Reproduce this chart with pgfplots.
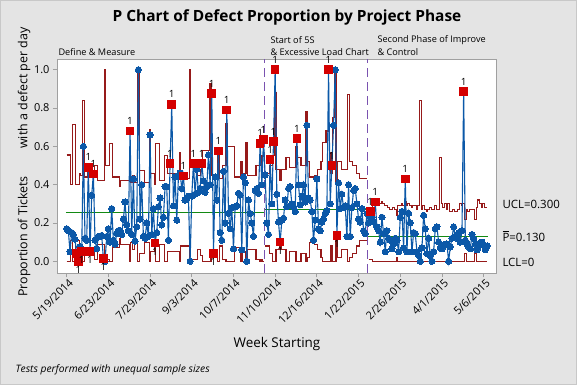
\documentclass[border=0pt]{standalone}
\usepackage{fontspec}
\setmainfont{Open Sans}
\usepackage{pgfplots}
\pgfplotsset{compat=1.18}
\usepackage{pgfplotstable}
\definecolor{bg}{HTML}{E4E4E4}
\definecolor{frame}{HTML}{C8C8C8}
\definecolor{axgray}{HTML}{A0A0A0}
\definecolor{mblue}{HTML}{0B58A8}
\definecolor{mred}{HTML}{D40000}
\definecolor{limred}{HTML}{961A1A}
\definecolor{cgreen}{HTML}{138A13}
\definecolor{mpurple}{HTML}{7A52B0}

\pgfplotstableread[row sep=\\]{
x y\\
1 0.17\\ 2 0.16\\ 3 0.05\\ 4 0.15\\ 5 0.14\\ 6 0.115\\ 7 0.04\\ 8 0.00\\ 9 0.075\\ 10 0.05\\
11 0.60\\ 12 0.12\\ 13 0.11\\ 14 0.49\\ 15 0.05\\ 16 0.345\\ 17 0.455\\ 18 0.11\\ 19 0.065\\ 20 0.13\\
21 0.13\\ 22 0.135\\ 23 0.015\\ 24 0.00\\ 25 0.13\\ 26 0.17\\ 27 0.10\\ 28 0.275\\ 29 0.11\\ 30 0.09\\
31 0.145\\ 32 0.16\\ 33 0.16\\ 34 0.14\\ 35 0.22\\ 36 0.31\\ 37 0.19\\ 38 0.16\\ 39 0.68\\ 40 0.14\\
41 0.43\\ 42 0.105\\ 43 0.18\\ 44 1.00\\ 45 0.22\\ 46 0.40\\ 47 0.13\\ 48 0.12\\ 49 0.20\\ 50 0.13\\
51 0.66\\ 52 0.14\\ 53 0.275\\ 54 0.095\\ 55 0.15\\ 56 0.285\\ 57 0.33\\ 58 0.19\\ 59 0.23\\ 60 0.39\\
61 0.39\\ 62 0.11\\ 63 0.51\\ 64 0.82\\ 65 0.29\\ 66 0.44\\ 67 0.215\\ 68 0.44\\ 69 0.46\\ 70 0.38\\
71 0.445\\ 72 0.32\\ 73 0.33\\ 74 0.34\\ 75 0.00\\ 76 0.34\\ 77 0.51\\ 78 0.35\\ 79 0.48\\ 80 0.36\\
81 0.38\\ 82 0.51\\ 83 0.42\\ 84 0.36\\ 85 0.39\\ 86 0.555\\ 87 0.40\\ 88 0.875\\ 89 0.04\\ 90 0.44\\
91 0.32\\ 92 0.575\\ 93 0.15\\ 94 0.11\\ 95 0.47\\ 96 0.20\\ 97 0.79\\ 98 0.25\\ 99 0.17\\ 100 0.28\\
101 0.065\\ 102 0.285\\ 103 0.29\\ 104 0.355\\ 105 0.345\\ 106 0.06\\ 107 0.44\\ 108 0.41\\ 109 0.00\\ 110 0.32\\
111 0.25\\ 112 0.20\\ 113 0.13\\ 114 0.37\\ 115 0.38\\ 116 0.355\\ 117 0.615\\ 118 0.40\\ 119 0.635\\
120 0.45\\ 121 0.20\\ 122 0.14\\ 123 0.53\\ 124 0.30\\ 125 0.625\\ 126 1.00\\ 127 0.35\\ 128 0.205\\ 129 0.10\\
130 0.215\\ 131 0.225\\ 132 0.32\\ 133 0.285\\ 134 0.38\\ 135 0.39\\ 136 0.30\\ 137 0.285\\ 138 0.26\\ 139 0.64\\
140 0.40\\ 141 0.295\\ 142 0.34\\ 143 0.40\\ 144 0.31\\ 145 0.71\\ 146 0.33\\ 147 0.32\\ 148 0.26\\ 149 0.11\\
150 0.215\\ 151 0.43\\ 152 0.17\\ 153 0.16\\ 154 0.205\\ 155 0.22\\ 156 0.25\\ 157 0.265\\ 158 1.00\\ 159 0.30\\
160 0.50\\ 161 0.71\\ 162 1.00\\ 163 0.135\\ 164 0.41\\ 165 0.275\\ 166 0.35\\ 167 0.28\\ 168 0.29\\ 169 0.13\\
170 0.40\\ 171 0.13\\ 172 0.28\\ 173 0.37\\ 174 0.38\\ 175 0.30\\ 176 0.22\\ 177 0.205\\ 178 0.275\\ 179 0.16\\
180 0.145\\ 181 0.25\\
182 0.20\\ 183 0.26\\ 184 0.23\\ 185 0.205\\ 186 0.31\\ 187 0.18\\ 188 0.16\\ 189 0.10\\ 190 0.23\\ 191 0.145\\
192 0.05\\ 193 0.16\\ 194 0.12\\ 195 0.11\\ 196 0.065\\ 197 0.09\\ 198 0.12\\ 199 0.11\\ 200 0.05\\ 201 0.23\\
202 0.26\\ 203 0.07\\ 204 0.43\\ 205 0.05\\ 206 0.25\\ 207 0.20\\ 208 0.05\\ 209 0.15\\ 210 0.145\\ 211 0.05\\
212 0.03\\ 213 0.00\\ 214 0.07\\ 215 0.24\\ 216 0.17\\ 217 0.04\\ 218 0.12\\ 219 0.03\\ 220 0.00\\ 221 0.05\\
222 0.17\\ 223 0.18\\ 224 0.10\\ 225 0.07\\ 226 0.065\\ 227 0.085\\ 228 0.085\\ 229 0.09\\ 230 0.00\\ 231 0.075\\
232 0.12\\ 233 0.18\\ 234 0.13\\ 235 0.12\\ 236 0.15\\ 237 0.10\\ 238 0.16\\ 239 0.885\\ 240 0.11\\ 241 0.09\\
242 0.075\\ 243 0.065\\ 244 0.14\\ 245 0.12\\ 246 0.09\\ 247 0.06\\ 248 0.09\\ 249 0.085\\ 250 0.10\\ 251 0.085\\
252 0.06\\ 253 0.08\\
}\ptsdata

\pgfplotstableread[row sep=\\]{
x y\\
14 0.49\\ 17 0.455\\ 39 0.68\\ 63 0.51\\ 64 0.82\\ 71 0.445\\ 77 0.51\\ 82 0.51\\ 88 0.875\\ 92 0.575\\
97 0.79\\ 117 0.615\\ 119 0.635\\ 123 0.53\\ 125 0.625\\ 126 1.00\\ 139 0.64\\ 158 1.00\\ 160 0.50\\
183 0.26\\ 186 0.31\\ 204 0.43\\ 239 0.885\\
}\redup

\pgfplotstableread[row sep=\\]{
x y\\
7 0.04\\ 8 0.00\\ 10 0.05\\ 15 0.05\\ 23 0.015\\ 54 0.095\\ 89 0.04\\ 129 0.10\\ 163 0.135\\
}\reddown

\pgfplotstableread[row sep=\\]{
x u l\\
1 0.555 0\\ 2 0.555 0\\ 3 0.555 0\\ 4 0.40 0.11\\ 5 0.715 0\\ 6 0.715 0\\ 7 0.40 0.11\\ 8 0.40 0.11\\ 9 0.46 0.05\\ 10 0.45 0.06\\
11 0.84 0\\ 12 0.44 0.07\\ 13 0.44 0.07\\ 14 0.47 0.04\\ 15 0.44 0.07\\ 16 0.44 0.07\\ 17 0.44 0.07\\ 18 0.50 0.01\\ 19 0.50 0.01\\ 20 0.42 0.09\\
21 0.42 0.09\\ 22 0.42 0.09\\ 23 0.42 0.09\\ 24 1.0 0\\ 25 0.50 0.01\\ 26 0.50 0.01\\ 27 0.615 0\\ 28 0.615 0\\ 29 0.44 0.07\\ 30 0.44 0.07\\
31 0.44 0.07\\ 32 0.44 0.07\\ 33 0.39 0.12\\ 34 0.42 0.09\\ 35 0.42 0.09\\ 36 0.42 0.09\\ 37 0.42 0.09\\ 38 0.42 0.09\\ 39 0.58 0\\ 40 0.41 0.10\\
41 0.45 0.06\\ 42 0.41 0.10\\ 43 0.41 0.10\\ 44 1.0 0\\ 45 0.475 0.04\\ 46 0.475 0.04\\ 47 0.475 0.04\\ 48 0.41 0.10\\ 49 0.41 0.10\\ 50 0.41 0.10\\
51 0.69 0\\ 52 0.46 0.05\\ 53 0.46 0.05\\ 54 0.40 0.11\\ 55 0.615 0\\ 56 0.615 0\\ 57 0.42 0.09\\ 58 0.42 0.09\\ 59 0.42 0.09\\ 60 0.55 0\\
61 0.55 0\\ 62 0.46 0.05\\ 63 0.46 0.05\\ 64 0.46 0.05\\ 65 0.46 0.05\\ 66 0.46 0.05\\ 67 0.46 0.05\\ 68 0.46 0.05\\ 69 0.57 0\\ 70 0.43 0.08\\
71 0.43 0.08\\ 72 0.43 0.08\\ 73 0.43 0.08\\ 74 0.43 0.08\\ 75 1.0 0\\ 76 0.50 0.01\\ 77 0.50 0.01\\ 78 0.50 0.01\\ 79 0.50 0.01\\ 80 0.45 0.06\\
81 0.45 0.06\\ 82 0.48 0.03\\ 83 0.58 0\\ 84 0.58 0\\ 85 0.58 0\\ 86 0.58 0\\ 87 0.93 0\\ 88 0.45 0.06\\ 89 0.45 0.06\\ 90 0.45 0.06\\
91 0.45 0.06\\ 92 0.55 0\\ 93 0.43 0.08\\ 94 0.43 0.08\\ 95 0.50 0.01\\ 96 0.50 0.01\\ 97 0.72 0\\ 98 0.60 0\\ 99 0.60 0\\ 100 0.60 0\\
101 0.60 0\\ 102 0.44 0.07\\ 103 0.44 0.07\\ 104 0.44 0.07\\ 105 0.44 0.07\\ 106 0.52 0\\ 107 0.46 0.05\\ 108 0.46 0.05\\ 109 0.62 0\\ 110 0.45 0.06\\
111 0.45 0.06\\ 112 0.45 0.06\\ 113 0.45 0.06\\ 114 0.45 0.06\\ 115 0.50 0.01\\ 116 0.50 0.01\\ 117 0.55 0\\ 118 0.50 0.01\\ 119 0.55 0\\
}\limA

\pgfplotstableread[row sep=\\]{
x u l\\
120 0.46 0.08\\ 121 0.46 0.08\\ 122 0.46 0.08\\ 123 0.50 0.04\\ 124 0.50 0.04\\ 125 0.55 0\\ 126 0.88 0\\ 127 0.48 0.06\\ 128 0.48 0.06\\ 129 0.42 0.12\\
130 0.48 0.06\\ 131 0.48 0.06\\ 132 0.48 0.06\\ 133 0.54 0\\ 134 0.54 0\\ 135 0.49 0.05\\ 136 0.49 0.05\\ 137 0.49 0.05\\ 138 0.49 0.05\\ 139 0.60 0\\
140 0.54 0\\ 141 0.54 0\\ 142 0.50 0.04\\ 143 0.50 0.04\\ 144 0.50 0.04\\ 145 0.78 0\\ 146 0.52 0.02\\ 147 0.44 0.10\\ 148 0.44 0.10\\ 149 0.44 0.10\\
150 0.45 0.09\\ 151 0.45 0.09\\ 152 0.48 0.06\\ 153 0.48 0.06\\ 154 0.52 0.02\\ 155 0.62 0\\ 156 0.62 0\\ 157 0.68 0\\ 158 0.68 0\\ 159 0.57 0\\
160 0.46 0.08\\ 161 0.75 0\\ 162 1.0 0\\ 163 0.40 0.14\\ 164 0.52 0.02\\ 165 0.52 0.02\\ 166 0.48 0.06\\ 167 0.48 0.06\\ 168 0.48 0.06\\ 169 0.48 0.06\\
170 0.87 0\\ 171 0.52 0.02\\ 172 0.52 0.02\\ 173 0.50 0.04\\ 174 0.50 0.04\\ 175 0.46 0.08\\ 176 0.46 0.08\\ 177 0.43 0.11\\ 178 0.43 0.11\\ 179 0.43 0.11\\
180 0.43 0.11\\ 181 0.43 0.11\\
}\limB

\pgfplotstableread[row sep=\\]{
x u l\\
182 0.25 0.01\\ 183 0.25 0.01\\ 184 0.25 0.01\\ 185 0.31 0\\ 186 0.29 0\\ 187 0.31 0\\ 188 0.31 0\\ 189 0.30 0\\ 190 0.31 0\\ 191 0.30 0\\
192 0.29 0\\ 193 0.29 0\\ 194 0.28 0\\ 195 0.27 0\\ 196 0.27 0\\ 197 0.28 0\\ 198 0.27 0\\ 199 0.24 0.02\\ 200 0.29 0\\ 201 0.29 0\\
202 0.30 0\\ 203 0.29 0\\ 204 0.31 0\\ 205 0.29 0\\ 206 0.30 0\\ 207 0.29 0\\ 208 0.28 0\\ 209 0.29 0\\ 210 0.29 0\\ 211 0.27 0\\
212 0.29 0\\ 213 0.84 0\\ 214 0.27 0\\ 215 0.29 0\\ 216 0.27 0\\ 217 0.26 0\\ 218 0.27 0\\ 219 0.28 0\\ 220 0.27 0\\ 221 0.27 0\\
222 0.29 0\\ 223 0.27 0\\ 224 0.27 0\\ 225 0.54 0\\ 226 0.30 0\\ 227 0.28 0\\ 228 0.30 0\\ 229 0.27 0\\ 230 0.30 0\\ 231 0.26 0\\
232 0.26 0\\ 233 0.27 0\\ 234 0.26 0\\ 235 0.26 0\\ 236 0.27 0\\ 237 0.30 0\\ 238 0.29 0\\ 239 0.30 0\\ 240 0.22 0.04\\ 241 0.27 0\\
242 0.26 0\\ 243 0.27 0\\ 244 0.27 0\\ 245 0.27 0\\ 246 0.22 0.04\\ 247 0.28 0\\ 248 0.32 0\\ 249 0.30 0\\ 250 0.28 0\\ 251 0.30 0\\
252 0.28 0\\ 253 0.28 0\\
}\limC

\newcommand{\fs}[1]{\fontsize{#1}{#1}\selectfont}

\begin{document}
\begin{tikzpicture}
\fill[bg] (0bp,0bp) rectangle (577bp,385bp);
\draw[frame, line width=0.8bp] (0.4bp,0.4bp) rectangle (576.6bp,384.6bp);
\useasboundingbox (0bp,0bp) rectangle (577bp,385bp);
\coordinate (axpos) at (57bp,112bp);
\begin{axis}[
  at={(axpos)}, anchor=south west,
  scale only axis, width=439bp, height=214bp,
  xmin=-4.8, xmax=258.4, ymin=-0.061, ymax=1.056,
  axis background/.style={fill=white},
  axis line style={draw=axgray, line width=0.9bp},
  tick pos=left, tick align=outside,
  major tick length=4bp,
  tick style={draw=axgray, line width=0.8bp},
  xtick={1,26,51,76,101,126,151,176,201,226,251},
  xticklabels={5/19/2014,6/23/2014,7/29/2014,9/3/2014,10/7/2014,11/10/2014,12/16/2014,1/22/2015,2/26/2015,4/1/2015,5/6/2015},
  xticklabel style={font=\fs{11}, rotate=45, anchor=north east, inner sep=1.5bp, xshift=2bp},
  ytick={0,0.2,0.4,0.6,0.8,1.0},
  yticklabel style={font=\fs{11}, /pgf/number format/fixed, /pgf/number format/fixed zerofill, /pgf/number format/precision=1},
  /pgf/number format/assume math mode=true,
  clip=false,
]
% control limits
\addplot[limred, line width=1.1bp, const plot mark mid, no markers] table[x=x,y=u] {\limA};
\addplot[limred, line width=1.1bp, const plot mark mid, no markers] table[x=x,y=l] {\limA};
\addplot[limred, line width=1.1bp, const plot mark mid, no markers] table[x=x,y=u] {\limB};
\addplot[limred, line width=1.1bp, const plot mark mid, no markers] table[x=x,y=l] {\limB};
\addplot[limred, line width=1.1bp, const plot mark mid, no markers] table[x=x,y=u] {\limC};
\addplot[limred, line width=1.1bp, const plot mark mid, no markers] table[x=x,y=l] {\limC};
% center lines
\addplot[cgreen, line width=1.1bp, no markers] coordinates {(0.5,0.256) (119.5,0.256)};
\addplot[cgreen, line width=1.1bp, no markers] coordinates {(119.5,0.27) (181.5,0.27)};
\addplot[cgreen, line width=1.1bp, no markers] coordinates {(181.5,0.13) (253.5,0.13)};
% stage dividers
\addplot[mpurple, line width=1bp, dash pattern=on 9bp off 5bp, no markers] coordinates {(119.5,-0.061) (119.5,1.056)};
\addplot[mpurple, line width=1bp, dash pattern=on 9bp off 5bp, no markers] coordinates {(181.5,-0.061) (181.5,1.056)};
% data
\addplot[mblue, line width=1.1bp, mark=*, mark size=3.1bp, mark options={fill=mblue, draw=mblue, line width=0pt}] table[x=x,y=y] {\ptsdata};
\addplot[only marks, mark=square*, mark size=3.8bp, mark options={fill=mred, draw=mred, line width=0pt},
  nodes near coords={1}, every node near coord/.style={anchor=south, font=\fs{10}, text=black, inner sep=0pt, yshift=6.5bp}] table[x=x,y=y] {\redup};
\addplot[only marks, mark=square*, mark size=3.8bp, mark options={fill=mred, draw=mred, line width=0pt},
  nodes near coords={1}, every node near coord/.style={anchor=north, font=\fs{10}, text=black, inner sep=0pt, yshift=-5bp}] table[x=x,y=y] {\reddown};
\end{axis}
% texts
\node[font=\bfseries\fs{15.5}] at (287bp,368bp) {P Chart of Defect Proportion by Project Phase};
\node[anchor=west, font=\fs{9.2}] at (55bp,333bp) {Define \& Measure};
\node[anchor=west, font=\fs{9.2}] at (267bp,345bp) {Start of 5S};
\node[anchor=west, font=\fs{9.2}] at (267bp,332.5bp) {\& Excessive Load Chart};
\node[anchor=west, font=\fs{9.2}] at (374bp,345bp) {Second Phase of Improve};
\node[anchor=west, font=\fs{9.2}] at (374bp,332.5bp) {\& Control};
\node[anchor=west, font=\fs{11.5}] at (499bp,181bp) {UCL=0.300};
\node[anchor=west, font=\fs{11.5}] at (499bp,149bp) {$\overline{\mbox{P}}$=0.130};
\node[anchor=west, font=\fs{11.5}] at (499bp,123bp) {LCL=0};
\node[font=\fs{13.5}] at (277bp,41bp) {Week Starting};
\node[rotate=90, font=\fs{12.5}] at (24bp,223bp) {Proportion of Tickets\hspace{2.2em}with a defect per day};
\node[anchor=west, font=\itshape\fs{10.3}] at (12bp,15bp) {Tests performed with unequal sample sizes};
\end{tikzpicture}
\end{document}
